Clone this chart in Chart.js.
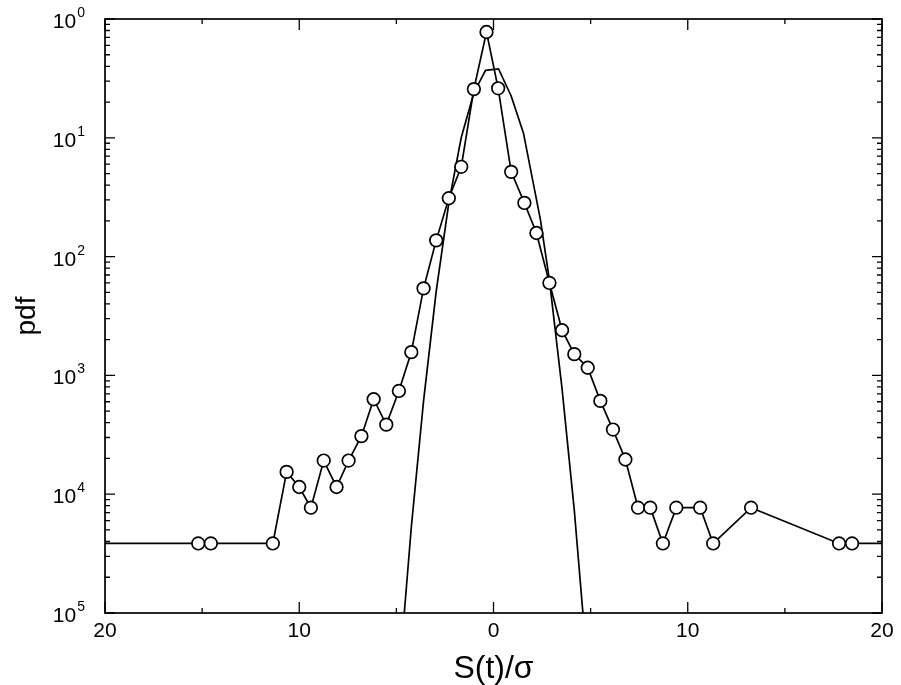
<!DOCTYPE html>
<html>
<head>
<meta charset="utf-8">
<script src="https://cdn.jsdelivr.net/npm/chart.js@4/dist/chart.umd.min.js"></script>
<style>
  html, body { margin: 0; padding: 0; background: #fff; }
  canvas { display: block; }
</style>
</head>
<body>
<canvas id="c" width="901" height="685"></canvas>
<script>
// Empirical pdf of the normalised signal S(t)/sigma (bins with zero counts omitted);
// the first and last entries carry the flat tail out past the frame edges.
const binCentres = [-21, -15.2, -14.55, -11.36, -10.65, -10.0, -9.4, -8.74, -8.08, -7.46,
  -6.8, -6.17, -5.52, -4.87, -4.23, -3.6, -2.95, -2.3, -1.66, -1.01, -0.36,
  0.24, 0.91, 1.59, 2.21, 2.88, 3.53, 4.16, 4.85, 5.5, 6.15, 6.79, 7.44, 8.07,
  8.72, 9.41, 10.64, 11.31, 13.26, 17.79, 18.46, 21];
const pdfValues = [3.85e-5, 3.85e-5, 3.85e-5, 3.85e-5, 1.54e-4, 1.15e-4, 7.7e-5, 1.92e-4, 1.15e-4, 1.92e-4,
  3.08e-4, 6.3e-4, 3.85e-4, 7.4e-4, 1.57e-3, 5.4e-3, 0.0137, 0.031, 0.057, 0.257, 0.777,
  0.261, 0.0517, 0.0283, 0.0158, 0.0060, 0.0024, 1.51e-3, 1.16e-3, 6.1e-4, 3.5e-4, 1.96e-4, 7.7e-5, 7.7e-5,
  3.85e-5, 7.7e-5, 7.7e-5, 3.85e-5, 7.7e-5, 3.85e-5, 3.85e-5, 3.85e-5];

// Gaussian reference curve
const gaussX = [-4.87, -4.23, -3.6, -2.95, -2.3, -1.66, -1.01, -0.41, 0.26, 0.91, 1.54, 2.42, 2.88, 3.53, 4.16, 4.85];
const gaussY = [2.8e-6, 5.3e-5, 6.1e-4, 5.1e-3, 0.0283, 0.1005, 0.2396, 0.37, 0.38, 0.225, 0.11, 0.0203, 6.3e-3, 7.7e-4, 7.3e-5, 3.3e-6];

// Axis ticks and labels
const xMajorTicks = [-20, -10, 0, 10, 20];
const xTickLabels = ['20', '10', '0', '10', '20'];
const xMinorTicks = [-15, -5, 5, 15];
const yDecadeExps = [0, -1, -2, -3, -4, -5];
const yTickLabels = [['10', '0'], ['10', '1'], ['10', '2'], ['10', '3'], ['10', '4'], ['10', '5']];
const xTitle = 'S(t)/\u03c3';
const yTitle = 'pdf';

const FONT = '"Liberation Sans", Arial, Helvetica, sans-serif';

const frameAndLabels = {
  id: 'frameAndLabels',
  afterDatasetsDraw(chart) {
    const { ctx, chartArea: a, scales: { x, y } } = chart;
    ctx.save();
    ctx.strokeStyle = '#000';
    ctx.lineWidth = 1.7;
    ctx.strokeRect(a.left, a.top, a.right - a.left, a.bottom - a.top);

    ctx.lineWidth = 1.3;
    ctx.beginPath();
    const vTick = (v, len) => {
      const p = x.getPixelForValue(v);
      ctx.moveTo(p, a.bottom); ctx.lineTo(p, a.bottom - len);
      ctx.moveTo(p, a.top); ctx.lineTo(p, a.top + len);
    };
    const hTick = (v, len) => {
      const p = y.getPixelForValue(v);
      ctx.moveTo(a.left, p); ctx.lineTo(a.left + len, p);
      ctx.moveTo(a.right, p); ctx.lineTo(a.right - len, p);
    };
    xMajorTicks.forEach(v => vTick(v, 11));
    xMinorTicks.forEach(v => vTick(v, 5));
    yDecadeExps.forEach(e => hTick(Math.pow(10, e), 10));
    yDecadeExps.slice(1).forEach(e => {
      for (let m = 2; m <= 9; m++) hTick(m * Math.pow(10, e), 5);
    });
    ctx.stroke();

    ctx.fillStyle = '#000';
    // x tick labels
    ctx.font = '21px ' + FONT;
    ctx.textAlign = 'center';
    ctx.textBaseline = 'alphabetic';
    xMajorTicks.forEach((v, i) => {
      ctx.fillText(xTickLabels[i], x.getPixelForValue(v), a.bottom + 24);
    });

    // y tick labels: base with superscript exponent
    yDecadeExps.forEach((e, i) => {
      const p = y.getPixelForValue(Math.pow(10, e));
      const [base, sup] = yTickLabels[i];
      ctx.font = '21px ' + FONT;
      const bw = ctx.measureText(base).width;
      ctx.font = '14px ' + FONT;
      const sw = ctx.measureText(sup).width;
      const right = a.left - 21;
      const x0 = right - bw - sw;
      ctx.textAlign = 'left';
      ctx.font = '21px ' + FONT;
      ctx.fillText(base, x0, p + 9);
      ctx.font = '14px ' + FONT;
      ctx.fillText(sup, x0 + bw + 1, p - 2);
    });

    // axis titles
    ctx.textAlign = 'center';
    ctx.font = '32px ' + FONT;
    ctx.fillText(xTitle, (a.left + a.right) / 2, a.bottom + 65);

    ctx.save();
    ctx.translate(27, (a.top + a.bottom) / 2);
    ctx.rotate(-Math.PI / 2);
    ctx.font = '28px ' + FONT;
    ctx.textBaseline = 'middle';
    ctx.fillText(yTitle, 0, 0);
    ctx.restore();

    ctx.restore();
  }
};

new Chart(document.getElementById('c'), {
  type: 'line',
  data: {
    datasets: [
      {
        label: 'pdf',
        data: binCentres.map((v, i) => ({ x: v, y: pdfValues[i] })),
        borderColor: '#000',
        borderWidth: 1.7,
        pointRadius: 6.3,
        pointBorderWidth: 1.7,
        pointBackgroundColor: '#fff',
        pointBorderColor: '#000',
        tension: 0,
        clip: 0,
        order: 1
      },
      {
        label: 'Gaussian',
        data: gaussX.map((v, i) => ({ x: v, y: gaussY[i] })),
        borderColor: '#000',
        borderWidth: 1.7,
        pointRadius: 0,
        tension: 0,
        clip: 0,
        order: 2
      }
    ]
  },
  options: {
    responsive: false,
    devicePixelRatio: 1,
    animation: false,
    layout: { padding: { left: 105, top: 19, right: 19, bottom: 72 } },
    plugins: { legend: { display: false }, tooltip: { enabled: false } },
    scales: {
      x: { type: 'linear', min: -20, max: 20, display: false },
      y: { type: 'logarithmic', min: 1e-5, max: 1, display: false }
    }
  },
  plugins: [frameAndLabels]
});
</script>
</body>
</html>
